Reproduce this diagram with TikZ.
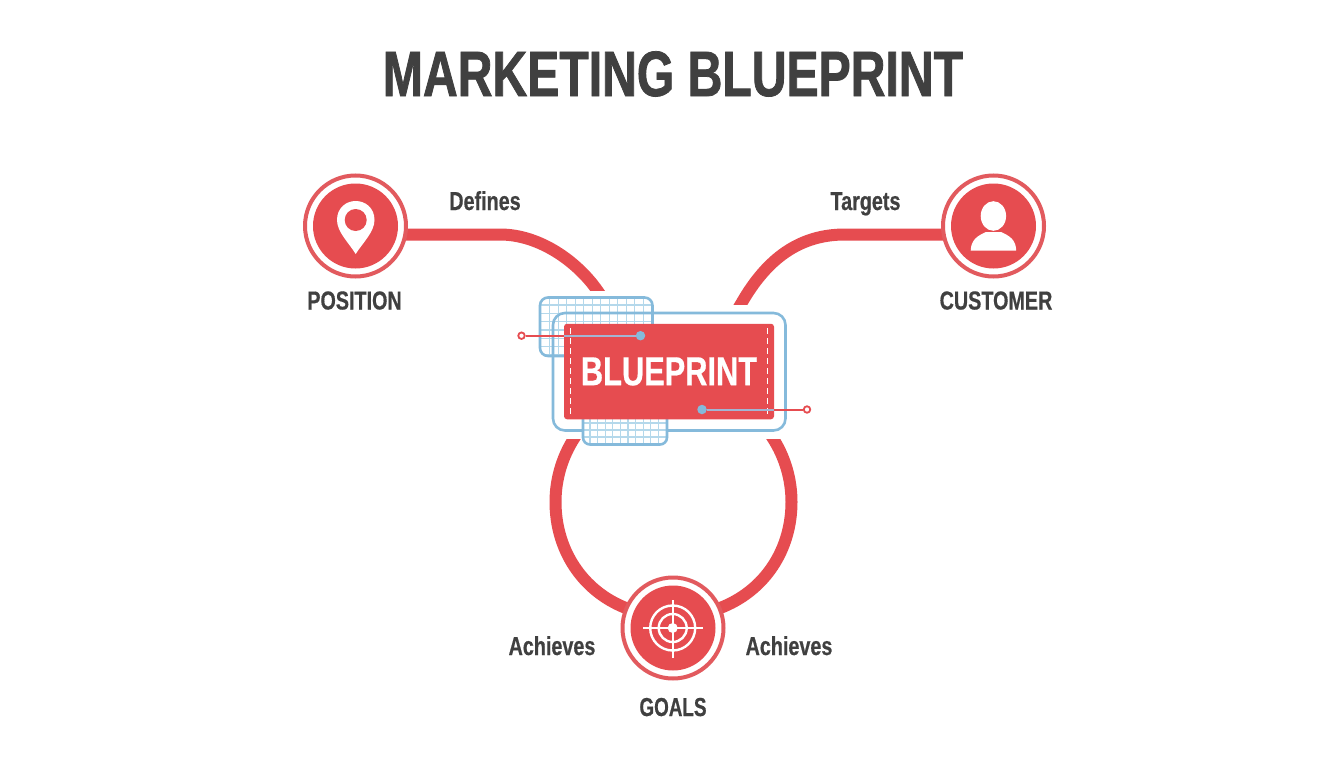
\documentclass[tikz,border=0pt]{standalone}
\usepackage{fontspec}
\newfontfamily\cond[BoldFeatures={FakeStretch=0.76,FakeBold=0.5}]{Liberation Sans}
\newfontfamily\condtitle[BoldFeatures={FakeStretch=0.752,FakeBold=1.2}]{Liberation Sans}
\definecolor{bpred}{HTML}{E64C50}
\definecolor{bpring}{HTML}{E25A5E}
\definecolor{bpblue}{HTML}{85BADB}
\definecolor{bpgrid}{HTML}{B4D8EB}
\definecolor{bptext}{HTML}{404040}
\definecolor{bpmix}{HTML}{A3B4D2}
\tikzset{
  conn/.style={draw=bpred,line width=12pt,line cap=rect},
  ringnode/.style={circle,draw=bpring,fill=white,line width=4pt,minimum size=101pt,inner sep=0pt},
  disc/.style={circle,fill=bpred,minimum size=85pt,inner sep=0pt},
  lab/.style={text=bptext,inner sep=0pt,anchor=base,font=\cond\bfseries\fontsize{26}{26}\selectfont},
  edgelab/.style={text=bptext,inner sep=0pt,anchor=base,font=\cond\bfseries\fontsize{26}{26}\selectfont},
  gridline/.style={draw=bpgrid,line width=1.3pt},
  panel/.style={draw=bpblue,line width=2.6pt},
  pinring/.style={circle,draw=bpred,fill=white,line width=1.8pt,minimum size=6.5pt,inner sep=0pt},
  pindot/.style={circle,fill=bpblue,minimum size=9.5pt,inner sep=0pt},
  targetline/.style={draw=white,line width=2.4pt},
  stitch/.style={white,line width=1.3pt,dash pattern=on 6pt off 4pt},
}
\begin{document}
\begin{tikzpicture}[x=1pt,y=-1pt]
\useasboundingbox (0,0) rectangle (1344,768);
\fill[white] (0,0) rectangle (1344,768);

\node[text=bptext,inner sep=0pt,anchor=base,font=\condtitle\bfseries\fontsize{64}{64}\selectfont] (title) at (673,96) {MARKETING BLUEPRINT};

% hubs (named first, painted over the connectors below)
\path (355.5,226) node[circle,minimum size=101pt,inner sep=0pt] (position) {}
      (993.5,226) node[circle,minimum size=101pt,inner sep=0pt] (customer) {}
      (673,628)   node[circle,minimum size=101pt,inner sep=0pt] (goals) {};

% connectors
\begin{scope}
\clip (300,150) rectangle (1050,290.7);
\draw[conn] (position.center |- 0,234.5) -- (500,234.5) .. controls (540,234.5) and (577.5,262) .. (597.5,290.7) -- (604,300);
\end{scope}
\begin{scope}
\clip (300,150) rectangle (1050,304.3);
\draw[conn] (customer.center |- 0,234.5) -- (845,234.5) .. controls (800,234.5) and (767,258) .. (740.8,304.3) -- (735,314);
\end{scope}
\begin{scope}
\clip (500,439) rectangle (850,650);
\draw[conn] (goals.157) .. controls (581.8,590.8) and (555.5,549.3) .. (555.5,502)
   .. controls (555.5,479.2) and (562.1,456.8) .. (574.5,437.7);
\draw[conn] (goals.23) .. controls (765.2,590.8) and (791.5,549.3) .. (791.5,502)
   .. controls (791.5,479.2) and (784.9,456.8) .. (772.5,437.7);
\end{scope}

% hub faces
\node[ringnode] at (position) {};
\node[disc] at (position) {};
\node[ringnode] at (customer) {};
\node[disc] at (customer) {};
\node[ringnode] at (goals) {};
\node[disc] at (goals) {};

% pin icon
\fill[white] (355.7,254) .. controls (349,243) and (337,232) .. (337,220)
   .. controls (337,208) and (346,201) .. (355.7,201)
   .. controls (365.5,201) and (374.5,208) .. (374.5,220)
   .. controls (374.5,232) and (362.5,243) .. (355.7,254) -- cycle;
\fill[bpred] (355.7,220) circle[radius=11];

% person icon
\fill[white] (993.4,216) ellipse[x radius=12.7,y radius=14.8];
\fill[white] (970.7,250.7) .. controls (971,240) and (977,236) .. (986,232)
   -- (1001,232) .. controls (1010,236) and (1016,240) .. (1016.2,250.7) -- cycle;

% target icon
\draw[targetline] (672.7,628) circle[radius=22.5];
\draw[targetline] (672.7,628) circle[radius=14];
\fill[white] (672.7,628) circle[radius=5];
\draw[targetline] (643,628) -- (702.5,628);
\draw[targetline] (672.7,600) -- (672.7,658);

% blueprint block
\fill[white,rounded corners=12pt] (553,313) rectangle (785.5,430.5);
\begin{scope}
\clip[rounded corners=8pt] (540,297.5) rectangle (652.5,356);
\foreach \k in {0,...,12} \draw[gridline] ({549.7+8.5*\k},290) -- ({549.7+8.5*\k},360);
\foreach \k in {0,...,6} \draw[gridline] (535,{305+8.3*\k}) -- (660,{305+8.3*\k});
\end{scope}
\draw[panel,rounded corners=8pt] (540,297.5) rectangle (652.5,356);
\draw[panel,rounded corners=12pt] (553,313) rectangle (785.5,430.5);
\fill[white] (583,415) rectangle (667,444);
\begin{scope}
\clip[rounded corners=7pt] (583,405) rectangle (667,444.5);
\foreach \k in {0,...,9} \draw[gridline] ({590+7.6*\k},405) -- ({590+7.6*\k},450);
\foreach \k in {0,...,3} \draw[gridline] (575,{423+7*\k}) -- (675,{423+7*\k});
\end{scope}
\draw[panel,rounded corners=7pt] (583,405) rectangle (667,444.5);
\node[draw=none,fill=bpred,rounded corners=3pt,minimum width=210pt,minimum height=95.5pt,inner sep=0pt,
      text=white,font=\cond\bfseries\fontsize{40.5}{40.5}\selectfont] (blueprint) at (669,371.5) {BLUEPRINT};
\draw[stitch] (570.7,328) -- (570.7,415);
\draw[stitch] (767.7,328) -- (767.7,415);

% callout leaders
\node[pinring] (tagl) at (521.5,335.7) {};
\node[pindot] (dotl) at (640.5,335.7) {};
\node[pinring] (tagr) at (807,409.5) {};
\node[pindot] (dotr) at (702,409.5) {};
\coordinate (edgel) at (564,335.7);
\coordinate (edger) at (774,409.5);
\draw[bpred,line width=2pt] (tagl) -- (edgel);
\draw[bpmix,line width=2pt] (edgel) -- (dotl);
\draw[bpred,line width=2pt] (tagr) -- (edger);
\draw[bpmix,line width=2pt] (edger) -- (dotr);

% labels
\node[lab] at (354.5,309.5) {POSITION};
\node[lab] at (996,309.5) {CUSTOMER};
\node[lab] at (673,716) {\scalebox{0.955}[1]{GOALS}};
\node[edgelab] at (485,210) {Defines};
\node[edgelab] at (865.5,210) {Targets};
\node[edgelab] at (552,655) {Achieves};
\node[edgelab] at (789,655) {Achieves};
\end{tikzpicture}
\end{document}
